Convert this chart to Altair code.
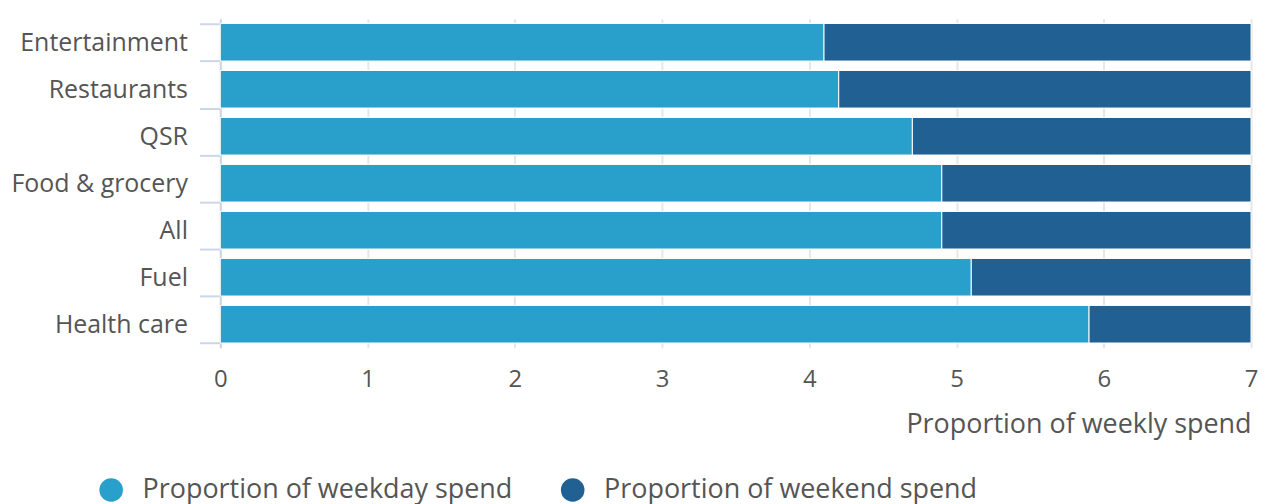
import altair as alt
import pandas as pd

categories = ["Entertainment", "Restaurants", "QSR", "Food & grocery", "All", "Fuel", "Health care"]
weekday = [4.1, 4.2, 4.7, 4.9, 4.9, 5.1, 5.9]
weekend = [2.9, 2.8, 2.3, 2.1, 2.1, 1.9, 1.1]
series = ["Proportion of weekday spend", "Proportion of weekend spend"]
colors = ["#29a0cb", "#216093"]

rows = []
for c, a, b in zip(categories, weekday, weekend):
    rows.append({"category": c, "series": series[0], "value": a, "order": 0})
    rows.append({"category": c, "series": series[1], "value": b, "order": 1})
df = pd.DataFrame(rows)

FONT = "Open Sans"

chart = alt.Chart(df).mark_bar(stroke="white", strokeWidth=1).encode(
    y=alt.Y("category:N", sort=categories, title=None,
            scale=alt.Scale(paddingInner=0.2, paddingOuter=0.1),
            axis=alt.Axis(labelFontSize=25, labelColor="#555555", labelFont=FONT,
                          domainColor="#ccd6eb", domainWidth=2, tickColor="#ccd6eb",
                          tickWidth=2, tickSize=21, tickBand="extent", labelPadding=12,
                          grid=False)),
    x=alt.X("value:Q", stack="zero", title="Proportion of weekly spend",
            scale=alt.Scale(domain=[0, 7], nice=False),
            axis=alt.Axis(values=[0, 1, 2, 3, 4, 5, 6, 7], format="d", labelFontSize=24,
                          labelColor="#555555", labelFont=FONT, domain=False, ticks=False,
                          labelFlush=False,
                          labelPadding=20, gridColor="#e6e6e6", gridWidth=2,
                          titleFont=FONT, titleFontSize=27, titleFontWeight="normal",
                          titleColor="#555555", titleAnchor="end", titlePadding=20)),
    color=alt.Color("series:N", scale=alt.Scale(domain=series, range=colors),
                    legend=alt.Legend(title=None, orient="none", direction="horizontal",
                                      legendX=-123, legendY=459,
                                      symbolType="circle", symbolSize=560, symbolStrokeWidth=0,
                                      labelFont=FONT, labelFontSize=27, labelColor="#555555",
                                      labelOffset=18, columnPadding=46, labelLimit=500)),
    order=alt.Order("order:Q"),
).properties(width=1034, height=330, padding={"left": 2, "top": -2, "right": 0, "bottom": 5}
).configure_view(stroke=None)

chart.save("out.html", embed_options={"renderer": "svg", "actions": False})
